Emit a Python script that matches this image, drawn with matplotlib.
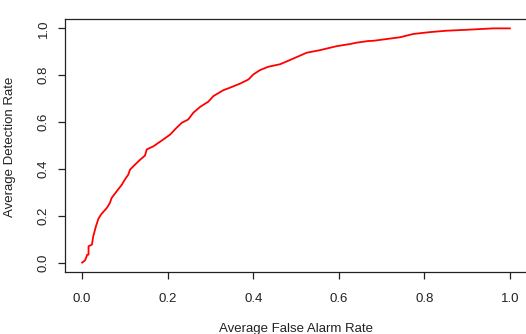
import numpy as np
import matplotlib
matplotlib.use("Agg")
import matplotlib.pyplot as plt

plt.rcParams['font.family'] = ['Liberation Sans', 'DejaVu Sans']

# ROC curve
false_alarm = [0.000, 0.007, 0.012, 0.015, 0.015, 0.023, 0.026, 0.032, 0.038, 0.044,
               0.058, 0.065, 0.069, 0.081, 0.093, 0.100, 0.108, 0.112, 0.124, 0.136,
               0.147, 0.151, 0.167, 0.190, 0.206, 0.221, 0.233, 0.248, 0.260, 0.276,
               0.295, 0.307, 0.330, 0.346, 0.369, 0.389, 0.400, 0.416, 0.435, 0.463,
               0.486, 0.525, 0.556, 0.595, 0.626, 0.642, 0.669, 0.681, 0.743, 0.774,
               0.813, 0.852, 0.899, 0.961, 1.000]
detection = [0.000, 0.010, 0.034, 0.034, 0.070, 0.077, 0.112, 0.153, 0.187, 0.205,
             0.234, 0.255, 0.276, 0.305, 0.333, 0.355, 0.376, 0.397, 0.419, 0.440,
             0.457, 0.483, 0.497, 0.526, 0.547, 0.576, 0.597, 0.611, 0.640, 0.665,
             0.687, 0.711, 0.736, 0.747, 0.764, 0.782, 0.803, 0.822, 0.836, 0.847,
             0.865, 0.896, 0.907, 0.924, 0.933, 0.939, 0.946, 0.947, 0.962, 0.976,
             0.984, 0.990, 0.994, 1.000, 1.000]

ticks = [0.0, 0.2, 0.4, 0.6, 0.8, 1.0]
tick_labels = ['0.0', '0.2', '0.4', '0.6', '0.8', '1.0']

W, H = 526, 334
fig = plt.figure(figsize=(W / 100, H / 100), dpi=100)
# R-style plot region, right edge falls just outside the picture
ax = fig.add_axes([65 / W, 1 - 272 / H, 462 / W, 253 / H])

ax.plot(false_alarm, detection, color='#ff0000', lw=1.3)
ax.set_xlim(-0.04, 1.04)
ax.set_ylim(-0.04, 1.04)

ax.set_xticks(ticks)
ax.set_xticklabels(tick_labels)
ax.set_yticks(ticks)
ax.set_yticklabels(tick_labels, rotation=90, va='center')
ax.tick_params(direction='out', length=5, width=0.9, labelsize=9.5, colors='#222222')
ax.tick_params(axis='x', pad=10)
ax.tick_params(axis='y', pad=6)
for s in ax.spines.values():
    s.set_linewidth(0.9)
    s.set_color('#222222')

fig.text(10 / W, 1 - 147 / H, 'Average Detection Rate', rotation=90,
         ha='center', va='center', fontsize=9.5, color='#222222')
fig.text(296 / W, 1 - 323 / H, 'Average False Alarm Rate',
         ha='center', va='top', fontsize=9.5, color='#222222')

fig.savefig('out.png', dpi=100)
